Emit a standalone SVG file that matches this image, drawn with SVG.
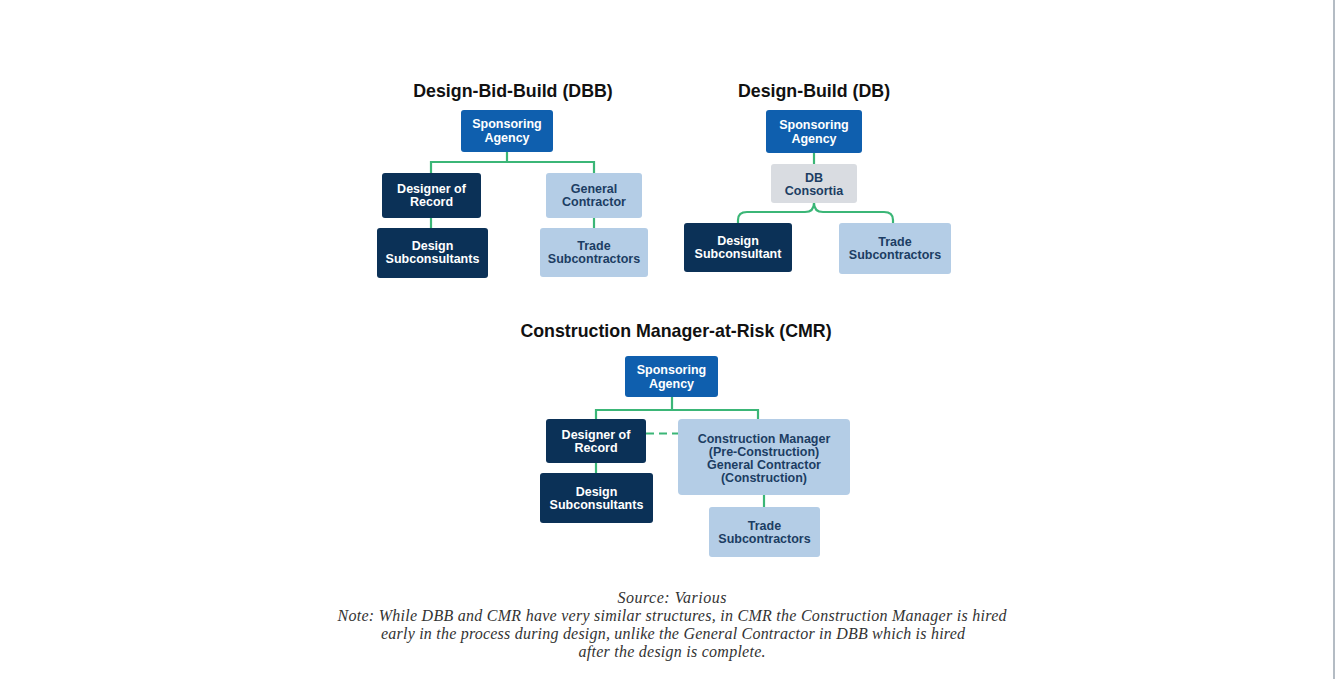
<svg xmlns="http://www.w3.org/2000/svg" width="1337" height="679" viewBox="0 0 1337 679">
<style>
.bg{fill:#ffffff}
.title{font-family:"Liberation Sans",Arial,sans-serif;font-weight:bold;font-size:17.8px;fill:#111111;text-anchor:middle}
.lbl{font-family:"Liberation Sans",Arial,sans-serif;font-weight:bold;font-size:12.5px;text-anchor:middle}
.w{fill:#ffffff}
.d{fill:#1c3d63}
.blue{fill:#0f5fae}
.navy{fill:#0b3157}
.light{fill:#b4cde6}
.gray{fill:#d9dce1}
.conn{fill:none;stroke:#3bb677;stroke-width:2.2}
.dash{stroke-dasharray:8 5}
.note{font-family:"Liberation Serif","Times New Roman",serif;font-style:italic;font-size:16px;fill:#333333;text-anchor:middle}
</style>
<rect class="bg" x="0" y="0" width="1337" height="679"/>
<line x1="1334" y1="0" x2="1334" y2="679" stroke="#b4bcc4" stroke-width="2"/>

<text class="title" x="513" y="97">Design-Bid-Build (DBB)</text>
<text class="title" x="814" y="97">Design-Build (DB)</text>
<text class="title" x="676" y="337">Construction Manager-at-Risk (CMR)</text>

<g id="connectors">
  <path class="conn" d="M507,152 V162 M431,173 V162 H594 V173"/>
  <path class="conn" d="M431,218 V228"/>
  <path class="conn" d="M594,218 V228"/>
  <path class="conn" d="M814,153 V165"/>
  <path class="conn" d="M814,203 Q814,212 805,212 H747 Q738,212 738,220 V223"/>
  <path class="conn" d="M814,203 Q814,212 823,212 H884 Q893,212 893,220 V223"/>
  <path class="conn" d="M672,397 V410 M596,419 V410 H758 V419"/>
  <path class="conn dash" d="M646,433.5 H678"/>
  <path class="conn" d="M596,463 V474"/>
  <path class="conn" d="M764,495 V507"/>
</g>

<g id="dbb-agency"><rect class="blue" x="461" y="110" width="92" height="42" rx="3"/>
<text class="lbl w" x="507" y="128">Sponsoring</text><text class="lbl w" x="507" y="141.5">Agency</text></g>
<g id="dbb-designer"><rect class="navy" x="382" y="173" width="99" height="45" rx="3"/>
<text class="lbl w" x="431.5" y="193">Designer of</text><text class="lbl w" x="431.5" y="206">Record</text></g>
<g id="dbb-gc"><rect class="light" x="546" y="173" width="96" height="45" rx="3"/>
<text class="lbl d" x="594" y="193">General</text><text class="lbl d" x="594" y="206">Contractor</text></g>
<g id="dbb-designsub"><rect class="navy" x="377" y="228" width="111" height="50" rx="3"/>
<text class="lbl w" x="432.5" y="250">Design</text><text class="lbl w" x="432.5" y="263">Subconsultants</text></g>
<g id="dbb-trade"><rect class="light" x="540" y="228" width="108" height="49" rx="3"/>
<text class="lbl d" x="594" y="250">Trade</text><text class="lbl d" x="594" y="263">Subcontractors</text></g>

<g id="db-agency"><rect class="blue" x="766" y="110" width="96" height="43" rx="3"/>
<text class="lbl w" x="814" y="129">Sponsoring</text><text class="lbl w" x="814" y="142.5">Agency</text></g>
<g id="db-consortia"><rect class="gray" x="771" y="164" width="86" height="39" rx="3"/>
<text class="lbl d" x="814" y="182">DB</text><text class="lbl d" x="814" y="195">Consortia</text></g>
<g id="db-designsub"><rect class="navy" x="684" y="223" width="108" height="49" rx="3"/>
<text class="lbl w" x="738" y="245">Design</text><text class="lbl w" x="738" y="258">Subconsultant</text></g>
<g id="db-trade"><rect class="light" x="839" y="223" width="112" height="51" rx="3"/>
<text class="lbl d" x="895" y="246">Trade</text><text class="lbl d" x="895" y="259">Subcontractors</text></g>

<g id="cmr-agency"><rect class="blue" x="625" y="356" width="93" height="41" rx="3"/>
<text class="lbl w" x="671.5" y="374">Sponsoring</text><text class="lbl w" x="671.5" y="387.5">Agency</text></g>
<g id="cmr-designer"><rect class="navy" x="546" y="419" width="100" height="44" rx="3"/>
<text class="lbl w" x="596" y="438.5">Designer of</text><text class="lbl w" x="596" y="451.5">Record</text></g>
<g id="cmr-cm"><rect class="light" x="678" y="419" width="172" height="76" rx="4"/>
<text class="lbl d" x="764" y="442.5">Construction Manager</text><text class="lbl d" x="764" y="455.5">(Pre-Construction)</text><text class="lbl d" x="764" y="468.5">General Contractor</text><text class="lbl d" x="764" y="481.5">(Construction)</text></g>
<g id="cmr-designsub"><rect class="navy" x="540" y="473" width="113" height="50" rx="3"/>
<text class="lbl w" x="596.5" y="496">Design</text><text class="lbl w" x="596.5" y="509">Subconsultants</text></g>
<g id="cmr-trade"><rect class="light" x="709" y="507" width="111" height="50" rx="3"/>
<text class="lbl d" x="764.5" y="529.5">Trade</text><text class="lbl d" x="764.5" y="542.5">Subcontractors</text></g>

<g id="footer">
<text class="note" x="672" y="603" textLength="109">Source: Various</text>
<text class="note" x="672" y="621" textLength="669">Note: While DBB and CMR have very similar structures, in CMR the Construction Manager is hired</text>
<text class="note" x="673" y="639" textLength="584">early in the process during design, unlike the General Contractor in DBB which is hired</text>
<text class="note" x="672" y="657" textLength="187">after the design is complete.</text>
</g>
</svg>
